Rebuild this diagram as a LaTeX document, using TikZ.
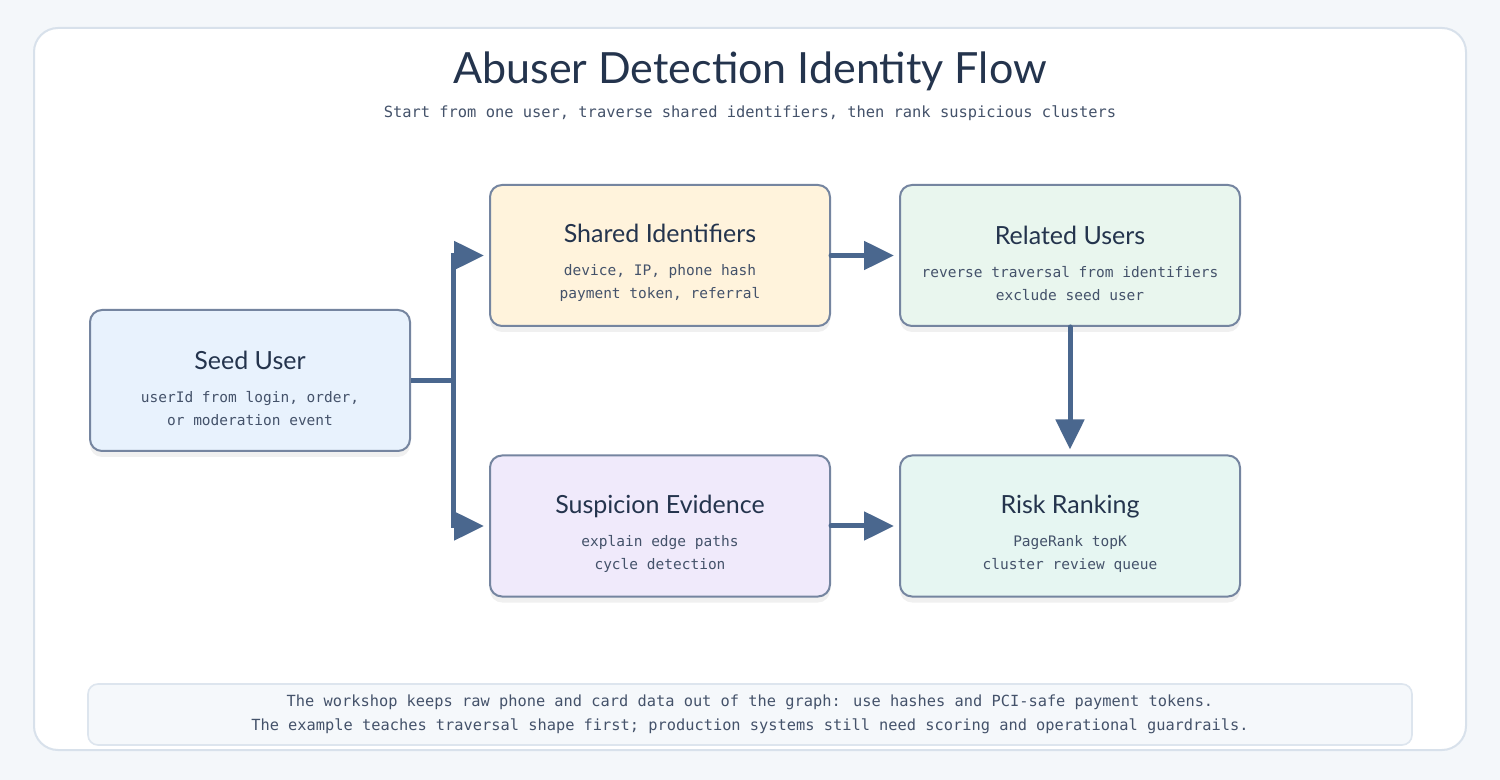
\documentclass[tikz,border=0pt]{standalone}
\usepackage{fontspec}
\setmainfont{Lato}
\newfontfamily\codefont{DejaVu Sans Mono}
\usepackage{xcolor}
\usetikzlibrary{positioning, arrows.meta, calc, shadows}

\definecolor{pagebg}{HTML}{F4F7FA}
\definecolor{cardline}{HTML}{D8E1EB}
\definecolor{boxline}{HTML}{7585A0}
\definecolor{flowblue}{HTML}{4A678E}
\definecolor{ink}{HTML}{24344D}
\definecolor{softink}{HTML}{44526A}
\definecolor{seedfill}{HTML}{E8F2FD}
\definecolor{sharedfill}{HTML}{FFF3DC}
\definecolor{relatedfill}{HTML}{E9F6EE}
\definecolor{suspfill}{HTML}{F0EAFB}
\definecolor{riskfill}{HTML}{E6F6F2}
\definecolor{notefill}{HTML}{F5F8FB}
\definecolor{noteline}{HTML}{DDE5EE}

\tikzset{
  stage/.style={draw=boxline, line width=1pt, rounded corners=6pt,
    minimum width=170pt, minimum height=70.5pt, align=center, text=softink,
    font=\codefont\fontsize{7.25}{11.5}\selectfont,
    drop shadow={shadow xshift=0pt, shadow yshift=-3pt, opacity=0.06, fill=black}},
  link/.style={draw=flowblue, line width=2.5pt},
  flow/.style={link, line cap=round, -{Triangle[length=15pt, width=14pt]}, shorten >=2.5pt},
}

\newcommand{\stagehead}[1]{{\normalfont\fontsize{12.5}{14}\selectfont\color{ink}\rule{0pt}{17pt}#1}}

\begin{document}
\begin{tikzpicture}[x=0.5pt, y=-0.5pt]

    % Page and card
    \fill[pagebg] (0,0) rectangle (1500,780);
    \useasboundingbox (0,0) rectangle (1500,780);
    \draw[fill=white, draw=cardline, line width=1pt, rounded corners=12pt] (34,28) rectangle (1466,750);

    % Heading
    \node[text=ink, font=\fontsize{21.5}{25}\selectfont] (title) at (750,71) {Abuser Detection Identity Flow};
    \node[text=softink, font=\codefont\fontsize{7.7}{9}\selectfont] (subtitle) at (750,113)
        {Start from one user, traverse shared identifiers, then rank suspicious clusters};

    % Stages
    \node[stage, fill=seedfill, minimum width=160pt] (seed) at (250,380.5)
        {\stagehead{Seed User}\\[5pt]userId from login, order,\\or moderation event};
    \node[stage, fill=sharedfill] (shared) at (660,255.5)
        {\stagehead{Shared Identifiers}\\[5pt]device, IP, phone hash\\payment token, referral};
    \node[stage, fill=relatedfill] (related) at (1070,255.5)
        {\stagehead{Related Users}\\[5pt]reverse traversal from identifiers\\exclude seed user};
    \node[stage, fill=suspfill] (susp) at (660,526)
        {\stagehead{Suspicion Evidence}\\[5pt]explain edge paths\\cycle detection};
    \node[stage, fill=riskfill] (risk) at (1070,526)
        {\stagehead{Risk Ranking}\\[5pt]PageRank topK\\cluster review queue};

    % Connectors
    \draw[link] (seed.east) -- ++(42,0) coordinate (fork);
    \draw[flow] (fork) |- (shared.west);
    \draw[flow] (fork) |- (susp.west);
    \draw[flow] (shared) -- (related);
    \draw[flow] (related) -- (risk);
    \draw[flow] (susp) -- (risk);

    % Footer note
    \node[draw=noteline, fill=notefill, line width=0.8pt, rounded corners=5pt,
          minimum width=662pt, minimum height=30.5pt, align=center,
          font=\codefont\fontsize{7.67}{12}\selectfont, text=softink] (note) at (750,714.5)
        {The workshop keeps raw phone and card data out of the graph: use hashes and PCI-safe payment tokens.\\
         The example teaches traversal shape first; production systems still need scoring and operational guardrails.};

\end{tikzpicture}
\end{document}
